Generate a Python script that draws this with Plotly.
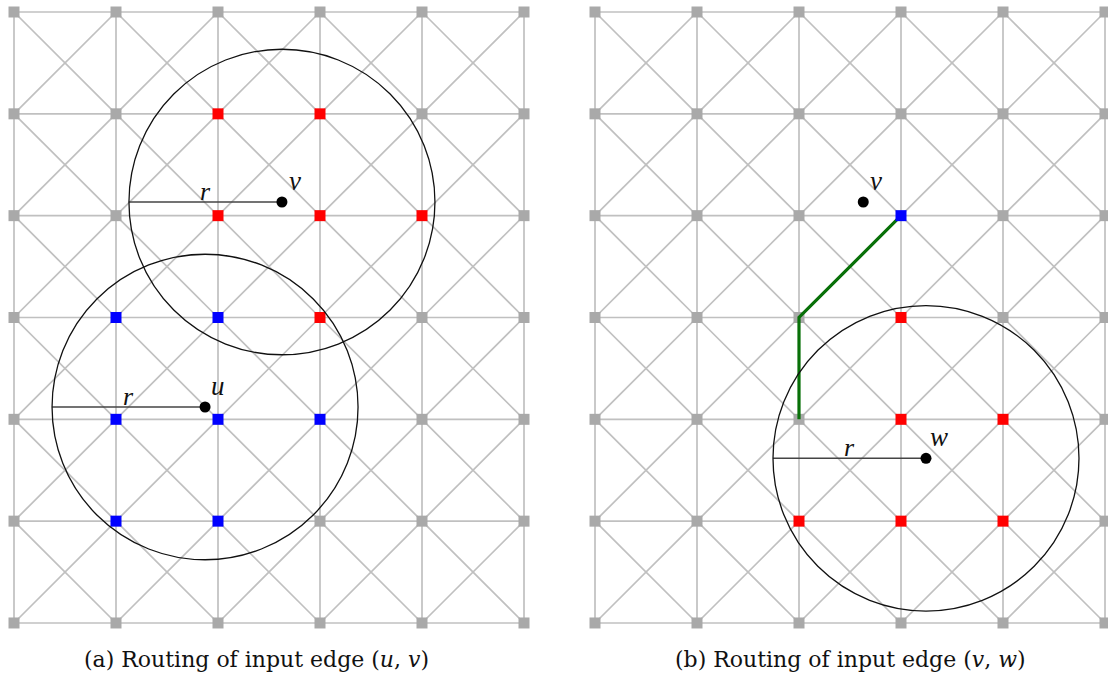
import plotly.graph_objects as go

# grid: 6 columns x 7 rows, unit spacing
cols = [0, 1, 2, 3, 4, 5]
rows = [0, 1, 2, 3, 4, 5, 6]

radius = 1.5

# panel (a)
a_points = {"u": (1.873, 3.879), "v": (2.627, 1.866)}
a_red = [(2, 1), (3, 1), (2, 2), (3, 2), (4, 2), (3, 3)]
a_blue = [(1, 3), (2, 3), (1, 4), (2, 4), (3, 4), (1, 5), (2, 5)]
a_circles = ["v", "u"]

# panel (b)
b_points = {"v": (2.63, 1.866), "w": (3.245, 4.383)}
b_red = [(3, 3), (3, 4), (4, 4), (2, 5), (3, 5), (4, 5)]
b_blue = [(3, 2)]
b_path = [(3, 2), (2, 3), (2, 4)]
b_circles = ["w"]

captions = ["(a) Routing of input edge (<i>u</i>, <i>v</i>)",
            "(b) Routing of input edge (<i>v</i>, <i>w</i>)"]

EDGE = "#c0c0c0"
NODE = "#a9a9a9"
SERIF = "Liberation Serif, DejaVu Serif, serif"
CAPTION_FONT = "DejaVu Serif, serif"

fig = go.Figure()


def grid_traces(xa, ya):
    sx, sy = [], []
    for r in rows:
        sx += [cols[0], cols[-1], None]
        sy += [r, r, None]
    for c in cols:
        sx += [c, c, None]
        sy += [rows[0], rows[-1], None]
    for c in cols[:-1]:
        for r in rows[:-1]:
            sx += [c, c + 1, None, c, c + 1, None]
            sy += [r, r + 1, None, r + 1, r, None]
    fig.add_trace(go.Scatter(x=sx, y=sy, mode="lines", xaxis=xa, yaxis=ya,
                             line=dict(color=EDGE, width=1.7),
                             hoverinfo="skip", showlegend=False))


def node_trace(nodes, color, xa, ya):
    fig.add_trace(go.Scatter(x=[n[0] for n in nodes], y=[n[1] for n in nodes],
                             mode="markers", xaxis=xa, yaxis=ya,
                             marker=dict(symbol="square", size=11, color=color,
                                         line=dict(width=0)),
                             hoverinfo="skip", showlegend=False))


def panel(xa, ya, xref, yref, points, red, blue, circles, path=None):
    grid_traces(xa, ya)
    all_nodes = [(c, r) for c in cols for r in rows]
    special = set(red) | set(blue)
    node_trace([n for n in all_nodes if n not in special], NODE, xa, ya)
    if path:
        fig.add_trace(go.Scatter(x=[p[0] for p in path], y=[p[1] for p in path],
                                 mode="lines", xaxis=xa, yaxis=ya,
                                 line=dict(color="#087008", width=3.2),
                                 hoverinfo="skip", showlegend=False))
    node_trace(red, "#ff0000", xa, ya)
    node_trace(blue, "#0000ff", xa, ya)
    for name in circles:
        cx, cy = points[name]
        fig.add_shape(type="circle", xref=xref, yref=yref,
                      x0=cx - radius, x1=cx + radius, y0=cy - radius, y1=cy + radius,
                      line=dict(color="#111111", width=1.3), layer="above")
        fig.add_trace(go.Scatter(x=[cx - radius, cx], y=[cy, cy], mode="lines",
                                 xaxis=xa, yaxis=ya,
                                 line=dict(color="#444444", width=1.6),
                                 hoverinfo="skip", showlegend=False))
        fig.add_annotation(x=cx - radius / 2, y=cy, xref=xref, yref=yref,
                           text="<i>r</i>", showarrow=False, yshift=11,
                           font=dict(family=SERIF, size=26, color="#111111"))
    for name, (px, py) in points.items():
        fig.add_trace(go.Scatter(x=[px], y=[py], mode="markers", xaxis=xa, yaxis=ya,
                                 marker=dict(size=11, color="#000000"),
                                 hoverinfo="skip", showlegend=False))
        fig.add_annotation(x=px, y=py, xref=xref, yref=yref,
                           text="<i>%s</i>" % name, showarrow=False,
                           xshift=13, yshift=21,
                           font=dict(family=SERIF, size=27, color="#111111"))


panel("x", "y", "x", "y", a_points, a_red, a_blue, a_circles)
panel("x2", "y2", "x2", "y2", b_points, b_red, b_blue, b_circles, b_path)

for i, cap in enumerate(captions):
    fig.add_annotation(x=(256 + 594 * i) / 1108, y=(675 - 659) / 675,
                       xref="paper", yref="paper",
                       text=cap, showarrow=False, xanchor="center", yanchor="middle",
                       font=dict(family=CAPTION_FONT, size=22, color="#111111"))

ax = dict(visible=False, showgrid=False, zeroline=False, fixedrange=True)
yr = [(675 - 12) / 101.83, -12 / 101.83]
fig.update_layout(
    width=1108, height=675,
    margin=dict(l=0, r=0, t=0, b=0),
    paper_bgcolor="white", plot_bgcolor="white",
    xaxis=dict(ax, domain=[0, 0.5], range=[-14 / 102, 540 / 102]),
    xaxis2=dict(ax, domain=[0.5, 1], range=[-41 / 102, 513 / 102]),
    yaxis=dict(ax, domain=[0, 1], range=yr, anchor="x"),
    yaxis2=dict(ax, domain=[0, 1], range=yr, anchor="x2"),
)

fig.write_html("out.html")
